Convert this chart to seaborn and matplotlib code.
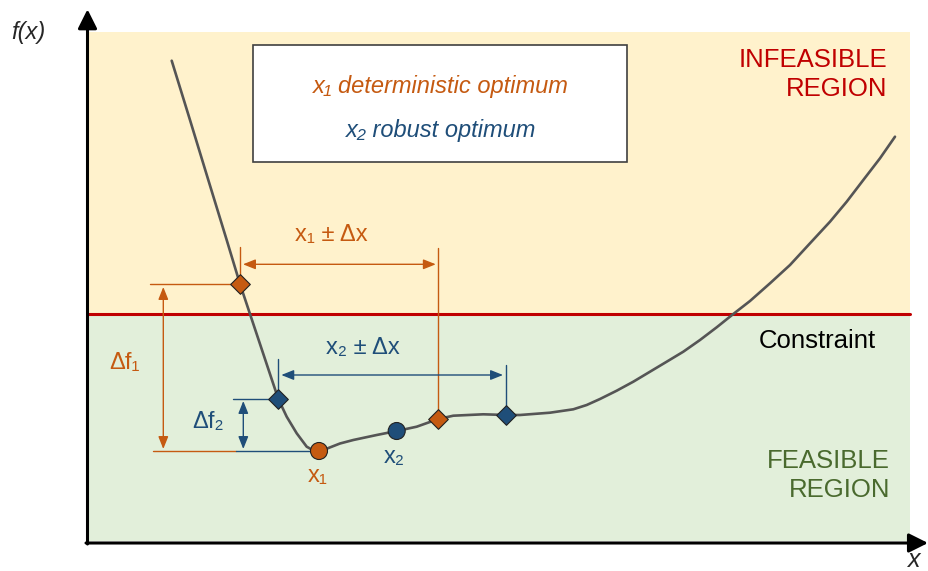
import numpy as np
import pandas as pd
import matplotlib
matplotlib.use("Agg")
import matplotlib.pyplot as plt
from matplotlib.patches import Rectangle
import seaborn as sns

# ---------------- data (chart units, origin at the axes corner) ----------------
curve_x = [84.7, 103, 121, 139.7, 153, 172, 191.3, 199.7, 209.7, 219.7, 226, 232, 240.7,
           253, 266.3, 289.7, 309.7, 329.7, 351.3, 366.3, 396.3, 419, 433, 463, 486.3,
           499.7, 513, 529.7, 546.3, 563, 579.7, 596.3, 613, 629.7, 646.3, 663, 683,
           703, 723, 743, 759.7, 776.3, 793, 808]
curve_f = [482.3, 423, 364, 303, 259, 202, 144, 126.3, 109.7, 96.3, 92.8, 92, 94.7,
           99.5, 103, 108, 112, 116.3, 124, 127.3, 128.7, 128, 128, 130.3, 133.7,
           138, 144, 152.3, 161.3, 171.3, 181.3, 191.3, 203, 215.7, 229, 242, 259.7,
           278, 299.7, 321.3, 341.3, 363, 384.7, 406.3]

opt_labels = ["x\u2081", "x\u2082"]
opt_x = [232, 309.7]
opt_f = [92, 112]

x1_diamond_x = [153, 351.3]
x1_diamond_f = [259, 124]
x2_diamond_x = [191.3, 419]
x2_diamond_f = [144, 128]

constraint_f = 229
region_top = 511
region_left, region_right = 1, 823
region_bottom = 2

ORANGE = "#C55A11"
BLUE = "#1F4E79"
RED = "#C00000"
GREEN_TXT = "#4A6A2E"
YELLOW_BG = "#FFF2CC"
GREEN_BG = "#E2EFDA"
CURVE = "#555555"

sns.set_theme(style="white")
plt.rcParams["font.family"] = ["Liberation Sans", "DejaVu Sans"]

fig = plt.figure(figsize=(9.29, 5.71), dpi=100)
ax = fig.add_axes([0, 0, 1, 1])
ax.set_xlim(-87, 842)
ax.set_ylim(-28, 543)
ax.axis("off")

# background regions
ax.add_patch(Rectangle((region_left, constraint_f), region_right - region_left,
                       region_top - constraint_f, facecolor=YELLOW_BG, edgecolor="none", zorder=0))
ax.add_patch(Rectangle((region_left, region_bottom), region_right - region_left,
                       constraint_f - region_bottom, facecolor=GREEN_BG, edgecolor="none", zorder=0))
ax.plot([region_left, region_right], [constraint_f, constraint_f], color=RED, lw=2.2, zorder=1)

# axes arrows
axis_arrow = dict(arrowstyle="-|>,head_length=0.58,head_width=0.29", color="black",
                  lw=2.2, mutation_scale=20, shrinkA=0, shrinkB=0)
ax.annotate("", xy=(0.5, 533.7), xytext=(0.5, -1), arrowprops=axis_arrow, zorder=5)
ax.annotate("", xy=(841, 0), xytext=(-1, 0), arrowprops=axis_arrow, zorder=5)
ax.text(-58.5, 510, "f(x)", fontsize=17, fontstyle="italic", ha="center", va="center")
ax.text(827, -17, "x", fontsize=18, fontstyle="italic", ha="center", va="center")

# curve
df_curve = pd.DataFrame({"x": curve_x, "f": curve_f})
sns.lineplot(data=df_curve, x="x", y="f", sort=False, color=CURVE, lw=1.9, ax=ax, zorder=3)

# dimension lines
def seg(xs, ys, c):
    ax.plot(xs, ys, color=c, lw=1.0, zorder=2)

dim_arrow = lambda c: dict(arrowstyle="<|-|>,head_length=0.75,head_width=0.3", color=c,
                           lw=1.0, mutation_scale=10, shrinkA=0, shrinkB=0)

# x1 +- dx
seg([x1_diamond_x[0]] * 2, [296, x1_diamond_f[0]], ORANGE)
seg([x1_diamond_x[1]] * 2, [295, x1_diamond_f[1]], ORANGE)
ax.annotate("", xy=(x1_diamond_x[0] + 3, 278.7), xytext=(x1_diamond_x[1] - 2.5, 278.7),
            arrowprops=dim_arrow(ORANGE), zorder=2)
# delta f1
seg([63, x1_diamond_x[0]], [x1_diamond_f[0]] * 2, ORANGE)
seg([66, 149], [opt_f[0]] * 2, ORANGE)
ax.annotate("", xy=(76.3, x1_diamond_f[0] - 3), xytext=(76.3, opt_f[0] + 2),
            arrowprops=dim_arrow(ORANGE), zorder=2)
# delta f2
seg([149, opt_x[0]], [opt_f[0]] * 2, BLUE)
seg([146, x2_diamond_x[0]], [x2_diamond_f[0]] * 2, BLUE)
ax.annotate("", xy=(156.3, x2_diamond_f[0] - 2), xytext=(156.3, opt_f[0] + 2),
            arrowprops=dim_arrow(BLUE), zorder=2)
# x2 +- dx
seg([x2_diamond_x[0]] * 2, [184, x2_diamond_f[0]], BLUE)
seg([x2_diamond_x[1]] * 2, [178, x2_diamond_f[1]], BLUE)
ax.annotate("", xy=(x2_diamond_x[0] + 3, 168), xytext=(x2_diamond_x[1] - 3, 168),
            arrowprops=dim_arrow(BLUE), zorder=2)

# markers
df_opt = pd.DataFrame({"x": opt_x, "f": opt_f, "lab": opt_labels})
sns.scatterplot(data=df_opt, x="x", y="f", hue="lab", palette=[ORANGE, BLUE], marker="o",
                s=150, edgecolor="#222222", linewidth=0.8, legend=False, ax=ax, zorder=4)
df_d1 = pd.DataFrame({"x": x1_diamond_x, "f": x1_diamond_f})
sns.scatterplot(data=df_d1, x="x", y="f", color=ORANGE, marker="D", s=100,
                edgecolor="#222222", linewidth=0.8, legend=False, ax=ax, zorder=4)
df_d2 = pd.DataFrame({"x": x2_diamond_x, "f": x2_diamond_f})
sns.scatterplot(data=df_d2, x="x", y="f", color=BLUE, marker="D", s=100,
                edgecolor="#222222", linewidth=0.8, legend=False, ax=ax, zorder=4)

# labels
ax.text(244.7, 308, "x\u2081 \u00b1 \u0394x", color=ORANGE, fontsize=17, ha="center", va="center")
ax.text(276, 195.5, "x\u2082 \u00b1 \u0394x", color=BLUE, fontsize=17, ha="center", va="center")
ax.text(37.5, 180, "\u0394f\u2081", color=ORANGE, fontsize=17, ha="center", va="center")
ax.text(120.8, 121, "\u0394f\u2082", color=BLUE, fontsize=17, ha="center", va="center")
ax.text(230.5, 67, opt_labels[0], color=ORANGE, fontsize=17, ha="center", va="center")
ax.text(307, 86, opt_labels[1], color=BLUE, fontsize=17, ha="center", va="center")

# info box
ax.add_patch(Rectangle((166.3, 380.7), 374, 117.3, facecolor="white",
                       edgecolor="#404040", lw=1.2, zorder=2))
ax.text(353.8, 457, "x\u2081 deterministic optimum", color=ORANGE, fontsize=17,
        fontstyle="italic", ha="center", va="center", zorder=3)
ax.text(354.3, 413, "x\u2082 robust optimum", color=BLUE, fontsize=17,
        fontstyle="italic", ha="center", va="center", zorder=3)

# region texts
ax.text(800, 468.5, "INFEASIBLE\nREGION", color=RED, fontsize=18.5, ha="right", va="center",
        linespacing=1.3)
ax.text(789, 202.2, "Constraint", color="black", fontsize=18.5, ha="right", va="center")
ax.text(803, 67.5, "FEASIBLE\nREGION", color=GREEN_TXT, fontsize=18.5, ha="right", va="center",
        linespacing=1.3)

fig.savefig("out.png", dpi=100)
